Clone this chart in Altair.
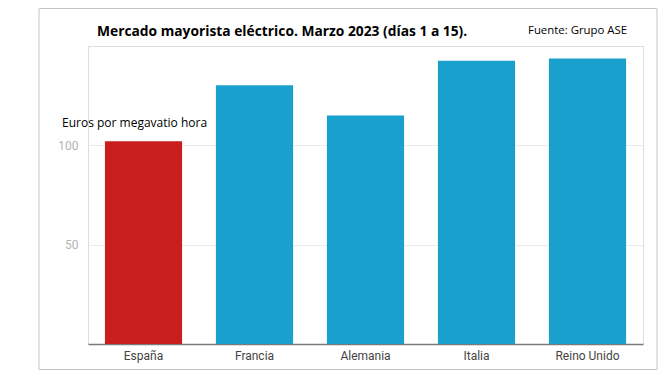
import altair as alt
import pandas as pd

paises = ["España", "Francia", "Alemania", "Italia", "Reino Unido"]
precios = [102.0, 130.2, 115.0, 142.6, 143.7]
colores = ["#C81E1E", "#1AA0CC", "#1AA0CC", "#1AA0CC", "#1AA0CC"]
titulo = "Mercado mayorista eléctrico. Marzo 2023 (días 1 a 15)."
fuente = "Fuente: Grupo ASE"
unidad = "Euros por megavatio hora"
ticks_y = [50, 100]

df = pd.DataFrame({"pais": paises, "precio": precios, "color": colores})

W, H = 555, 298

bars = alt.Chart(df).mark_bar().encode(
    x=alt.X("pais:N", sort=paises,
            scale=alt.Scale(paddingInner=0.305, paddingOuter=0.1525),
            axis=alt.Axis(title=None, labelAngle=0, ticks=False, labelPadding=6,
                          labelColor="#444444", labelFontSize=12, labelFont="Roboto",
                          domainColor="#7a7a7a", domainWidth=1.5, grid=False)),
    y=alt.Y("precio:Q", scale=alt.Scale(domain=[0, 150], nice=False),
            axis=alt.Axis(title=None, values=ticks_y, ticks=False, domain=False,
                          labelPadding=10, labelColor="#b4b4b4", labelFontSize=12,
                          labelFont="Roboto", gridColor="#ebebeb", gridWidth=1)),
    color=alt.Color("color:N", scale=None),
)

frame = alt.Chart(pd.DataFrame({"a": [0]})).mark_rect(
    fillOpacity=0, stroke="#c4c4c4", strokeWidth=1
).encode(x=alt.value(-49), x2=alt.value(569), y=alt.value(-37.5), y2=alt.value(323.5))

t_title = alt.Chart(pd.DataFrame({"t": [titulo]})).mark_text(
    font="Open Sans", fontWeight="bold", fontSize=13.8, align="left", baseline="alphabetic", color="#000000"
).encode(text="t:N", x=alt.value(9), y=alt.value(-10))

t_fuente = alt.Chart(pd.DataFrame({"t": [fuente]})).mark_text(
    font="Open Sans", fontSize=11.4, align="left", baseline="alphabetic", color="#000000"
).encode(text="t:N", x=alt.value(440), y=alt.value(-12))

t_unidad = alt.Chart(pd.DataFrame({"t": [unidad]})).mark_text(
    font="Open Sans", fontSize=12, align="left", baseline="alphabetic", color="#000000"
).encode(text="t:N", x=alt.value(-26), y=alt.value(81))

chart = alt.layer(bars, frame, t_title, t_fuente, t_unidad).properties(
    width=W, height=H,
    autosize=alt.AutoSizeParams(type="none"),
    padding={"left": 80, "top": 38, "right": 20, "bottom": 26},
).configure_view(stroke=None).configure(background="white")

chart.save("out.html", embed_options={"renderer": "svg", "actions": False})
